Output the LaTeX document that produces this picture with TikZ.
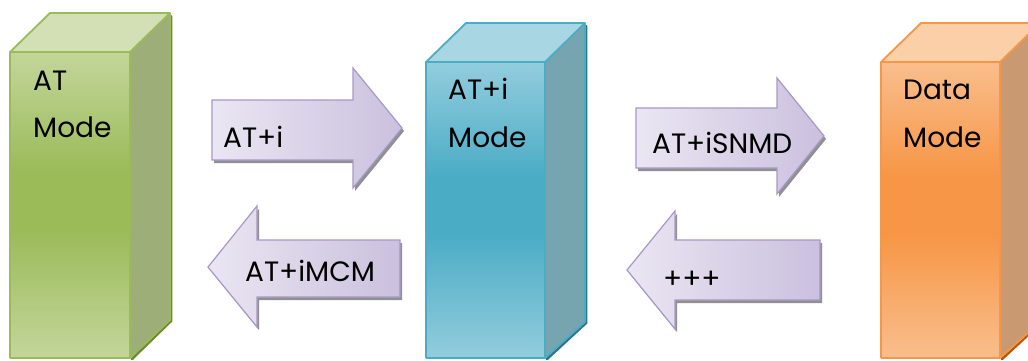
\documentclass[tikz,border=0pt]{standalone}
\usepackage{fontspec}
\newfontfamily\gothicfont{Poppins}
\usepackage{tikz}
\usetikzlibrary{positioning, calc}
\usepackage{xcolor}
\tikzstyle{mlabel} = [%
  anchor=base west,
  inner sep=0pt,
  text=black,
  font=\gothicfont\fontsize{28}{33}\selectfont
]
\tikzstyle{alabel} = [%
  anchor=base west,
  inner sep=0pt,
  text=black,
  font=\gothicfont\fontsize{28}{33}\selectfont
]
\definecolor{grnTop}{HTML}{D3E0B6}
\definecolor{grnLight}{HTML}{C3D69B}
\definecolor{grnMid}{HTML}{9BBB59}
\definecolor{grnSide}{HTML}{9DAE79}
\definecolor{grnDark}{HTML}{6B8A35}
\definecolor{bluTop}{HTML}{A9D6E3}
\definecolor{bluLight}{HTML}{93CDDD}
\definecolor{bluMid}{HTML}{4BACC6}
\definecolor{bluSide}{HTML}{76A5B0}
\definecolor{bluDark}{HTML}{2F7386}
\definecolor{orgTop}{HTML}{FBCFA8}
\definecolor{orgLight}{HTML}{F9BE8D}
\definecolor{orgMid}{HTML}{F79646}
\definecolor{orgSide}{HTML}{C99A72}
\definecolor{orgDark}{HTML}{B35A10}
\definecolor{arrowLight}{HTML}{EAE6F2}
\definecolor{arrowDark}{HTML}{CBC0DE}
\definecolor{arrowEdge}{HTML}{A898C6}
\definecolor{arrowShadow}{HTML}{909090}

\begin{document}
\begin{tikzpicture}[%
  x=1pt, y=-1pt,
  arrowbody/.style={%
    draw=arrowEdge,
    line width=1.2pt,
    left color=arrowLight,
    right color=arrowDark,
    preaction={fill=arrowShadow, transform canvas={shift={(2pt,-3pt)}}}
  },
  boxedge/.style={line width=1.8pt, line join=round},
  darkedge/.style={line width=2.5pt, line cap=round}
]
  \useasboundingbox (0,0) rectangle (1028,360);
  \clip (0,0) rectangle (1028,360);

  % AT mode block
  \shade[top color=grnLight, bottom color=grnMid] (10,52) rectangle (130,171);
  \fill[grnMid] (10,170) rectangle (130,231);
  \shade[top color=grnMid, bottom color=grnLight] (10,230) rectangle (130,358);
  \fill[grnTop] (10,52) -- (50,13) -- (170,13) -- (130,52) -- cycle;
  \fill[grnSide] (130,52) -- (170,13) -- (170,320) -- (130,358) -- cycle;
  \draw[darkedge, grnDark] (171,16) -- (171,321) -- (132,359);
  \draw[boxedge, grnMid] (10,358) -- (10,52) -- (50,13) -- (170,13) -- (170,320) -- (130,358) -- (10,358) (10,52) -- (130,52) -- (170,13) (130,52) -- (130,358);

  % AT+i mode block
  \shade[top color=bluLight, bottom color=bluMid] (426,62) rectangle (545,176);
  \fill[bluMid] (426,175) rectangle (545,236);
  \shade[top color=bluMid, bottom color=bluLight] (426,235) rectangle (545,358);
  \fill[bluTop] (426,62) -- (466,23) -- (585,23) -- (545,62) -- cycle;
  \fill[bluSide] (545,62) -- (585,23) -- (585,322) -- (545,358) -- cycle;
  \draw[darkedge, bluDark] (586,26) -- (586,323) -- (547,359);
  \draw[boxedge, bluMid] (426,358) -- (426,62) -- (466,23) -- (585,23) -- (585,322) -- (545,358) -- (426,358) (426,62) -- (545,62) -- (585,23) (545,62) -- (545,358);

  % Data mode block
  \shade[top color=orgLight, bottom color=orgMid] (881,62) rectangle (1000,176);
  \fill[orgMid] (881,175) rectangle (1000,236);
  \shade[top color=orgMid, bottom color=orgLight] (881,235) rectangle (1000,358);
  \fill[orgTop] (881,62) -- (921,23) -- (1040,23) -- (1000,62) -- cycle;
  \fill[orgSide] (1000,62) -- (1040,23) -- (1040,322) -- (1000,358) -- cycle;
  \draw[darkedge, orgDark] (1041,26) -- (1041,323) -- (1002,359);
  \draw[boxedge, orgMid] (881,358) -- (881,62) -- (921,23) -- (1040,23) (1040,322) -- (1000,358) -- (881,358) (881,62) -- (1000,62) -- (1040,23) (1000,62) -- (1000,358);

  % Command arrows
  \draw[arrowbody] (212,100) -- (353,100) -- (353,68) -- (402,128) -- (353,188) -- (353,160) -- (212,160) -- cycle;
  \draw[arrowbody] (636,108) -- (777,108) -- (777,78) -- (824,136) -- (777,194) -- (777,168) -- (636,168) -- cycle;
  \draw[arrowbody] (400,240) -- (257,240) -- (257,206) -- (208,267) -- (257,327) -- (257,297) -- (400,297) -- cycle;
  \draw[arrowbody] (820,240) -- (675,240) -- (675,211) -- (627,270) -- (675,329) -- (675,300) -- (820,300) -- cycle;

  % Labels
  \node[mlabel] (atMode1) at (33,90) {AT};
  \node[mlabel] (atMode2) at ([yshift=-47pt]atMode1.base west) {Mode};
  \node[mlabel] (iMode1) at (448,99) {AT+i};
  \node[mlabel] (iMode2) at ([yshift=-48pt]iMode1.base west) {Mode};
  \node[mlabel] (dataMode1) at (903,99) {Data};
  \node[mlabel] (dataMode2) at ([yshift=-48pt]dataMode1.base west) {Mode};

  \node[alabel] (cmdATi) at (223,147) {AT+i};
  \node[alabel] (cmdSNMD) at (652,153) {AT+iSNMD};
  \node[alabel] (cmdMCM) at (245,281) {AT+iMCM};
  \node[alabel] (cmdEsc) at (663,288) {+++};

\end{tikzpicture}
\end{document}
